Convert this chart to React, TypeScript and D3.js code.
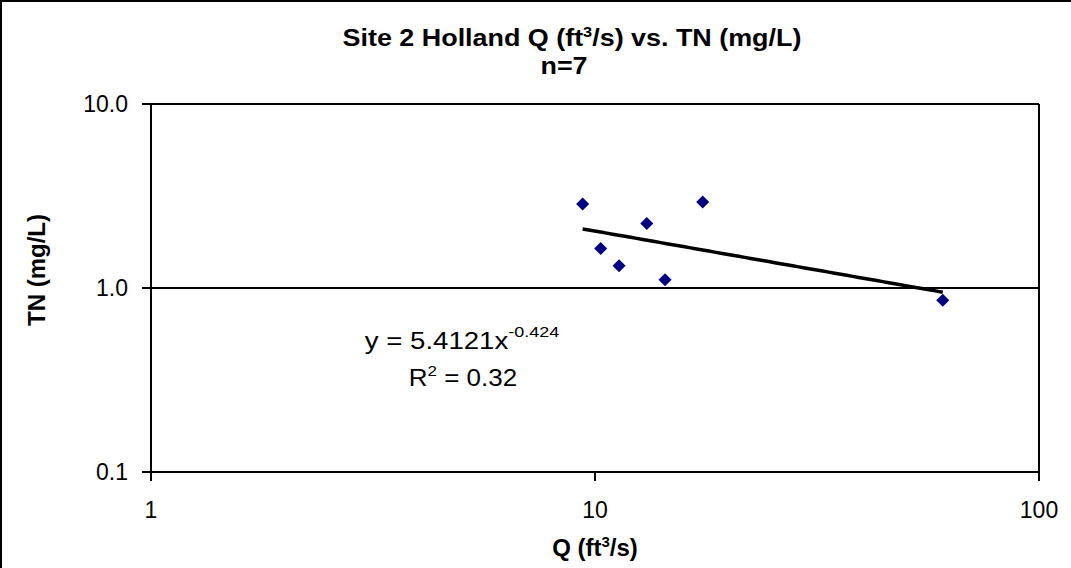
import React from 'react';
import * as d3 from 'd3';

const qValues = [9.38, 10.3, 11.33, 13.08, 14.38, 17.48, 60.7];
const tnValues = [2.86, 1.64, 1.32, 2.24, 1.11, 2.93, 0.857];
const xTicks = [1, 10, 100];
const xTickLabels = ['1', '10', '100'];
const yTicks = [0.1, 1, 10];
const yTickLabels = ['0.1', '1.0', '10.0'];
const fitA = 5.4121;
const fitB = -0.424;
const fitR2 = '0.32';

const FONT = '"Liberation Sans", Arial, sans-serif';

export default function App() {
  const W = 1071;
  const H = 568;
  const left = 151, right = 1039, top = 104, bottom = 472;
  const x = d3.scaleLog().domain([1, 100]).range([left, right]);
  const y = d3.scaleLog().domain([0.1, 10]).range([bottom, top]);

  const xmin = d3.min(qValues) as number;
  const xmax = d3.max(qValues) as number;
  const fitPts: [number, number][] = d3.range(0, 61).map((i) => {
    const q = xmin * Math.pow(xmax / xmin, i / 60);
    return [q, fitA * Math.pow(q, fitB)];
  });
  const line = d3.line<[number, number]>().x((d) => x(d[0])).y((d) => y(d[1]));
  const diamond = d3.symbol().type(d3.symbolSquare).size(85)() as string;

  return (
    <svg width={W} height={H} style={{ position: 'absolute', left: 0, top: 0, background: '#fff' }} fontFamily={FONT}>
      <rect x={1} y={1} width={1300} height={800} fill="#fff" stroke="#000" strokeWidth={2} />

      {/* Title */}
      <g transform="translate(572,46) scale(1.17,1)">
        <text x={0} y={0} textAnchor="middle" fontSize={23} fontWeight="bold">
          Site 2 Holland Q (ft<tspan dy={-9} fontSize={14}>3</tspan><tspan dy={9}>/s) vs. TN (mg/L)</tspan>
        </text>
      </g>
      <g transform="translate(564,74) scale(1.17,1)">
        <text x={0} y={0} textAnchor="middle" fontSize={23} fontWeight="bold">n=7</text>
      </g>

      {/* gridlines */}
      {yTicks.filter((t) => t !== 0.1).map((t) => (
        <line key={'g' + t} x1={left} x2={right} y1={y(t)} y2={y(t)} stroke="#000" strokeWidth={2} />
      ))}
      {/* plot border right */}
      <line x1={right} x2={right} y1={top} y2={bottom} stroke="#000" strokeWidth={2} />

      {/* axes */}
      <line x1={left} x2={left} y1={top} y2={bottom} stroke="#000" strokeWidth={2} />
      <line x1={left} x2={right} y1={bottom} y2={bottom} stroke="#000" strokeWidth={2} />
      {yTicks.map((t, i) => (
        <g key={'y' + t}>
          <line x1={left - 9} x2={left} y1={y(t)} y2={y(t)} stroke="#000" strokeWidth={2} />
          <text x={128} y={y(t) + 8} textAnchor="end" fontSize={23}>{yTickLabels[i]}</text>
        </g>
      ))}
      {xTicks.map((t, i) => (
        <g key={'x' + t}>
          <line x1={x(t)} x2={x(t)} y1={bottom} y2={bottom + 9} stroke="#000" strokeWidth={2} />
          <text x={x(t)} y={518} textAnchor="middle" fontSize={23}>{xTickLabels[i]}</text>
        </g>
      ))}

      {/* axis titles */}
      <text x={(left + right) / 2} y={556} textAnchor="middle" fontSize={24} fontWeight="bold">
        Q (ft<tspan dy={-9} fontSize={15}>3</tspan><tspan dy={9}>/s)</tspan>
      </text>
      <text transform={`translate(45,270) rotate(-90)`} textAnchor="middle" fontSize={24} fontWeight="bold">TN (mg/L)</text>

      {/* trendline */}
      <path d={line(fitPts) as string} fill="none" stroke="#000" strokeWidth={3.5} />

      {/* points */}
      {qValues.map((q, i) => (
        <path key={'p' + i} d={diamond} transform={`translate(${x(q)},${y(tnValues[i])}) rotate(45)`} fill="#000080" />
      ))}

      {/* equation */}
      <g transform="translate(462,349) scale(1.2,1)">
        <text x={0} y={0} textAnchor="middle" fontSize={23}>
          y = {fitA}x<tspan dy={-12} fontSize={15}>{fitB}</tspan>
        </text>
      </g>
      <g transform="translate(463,386) scale(1.13,1)">
        <text x={0} y={0} textAnchor="middle" fontSize={23}>
          R<tspan dy={-10} fontSize={15}>2</tspan><tspan dy={10}> = {fitR2}</tspan>
        </text>
      </g>
    </svg>
  );
}
